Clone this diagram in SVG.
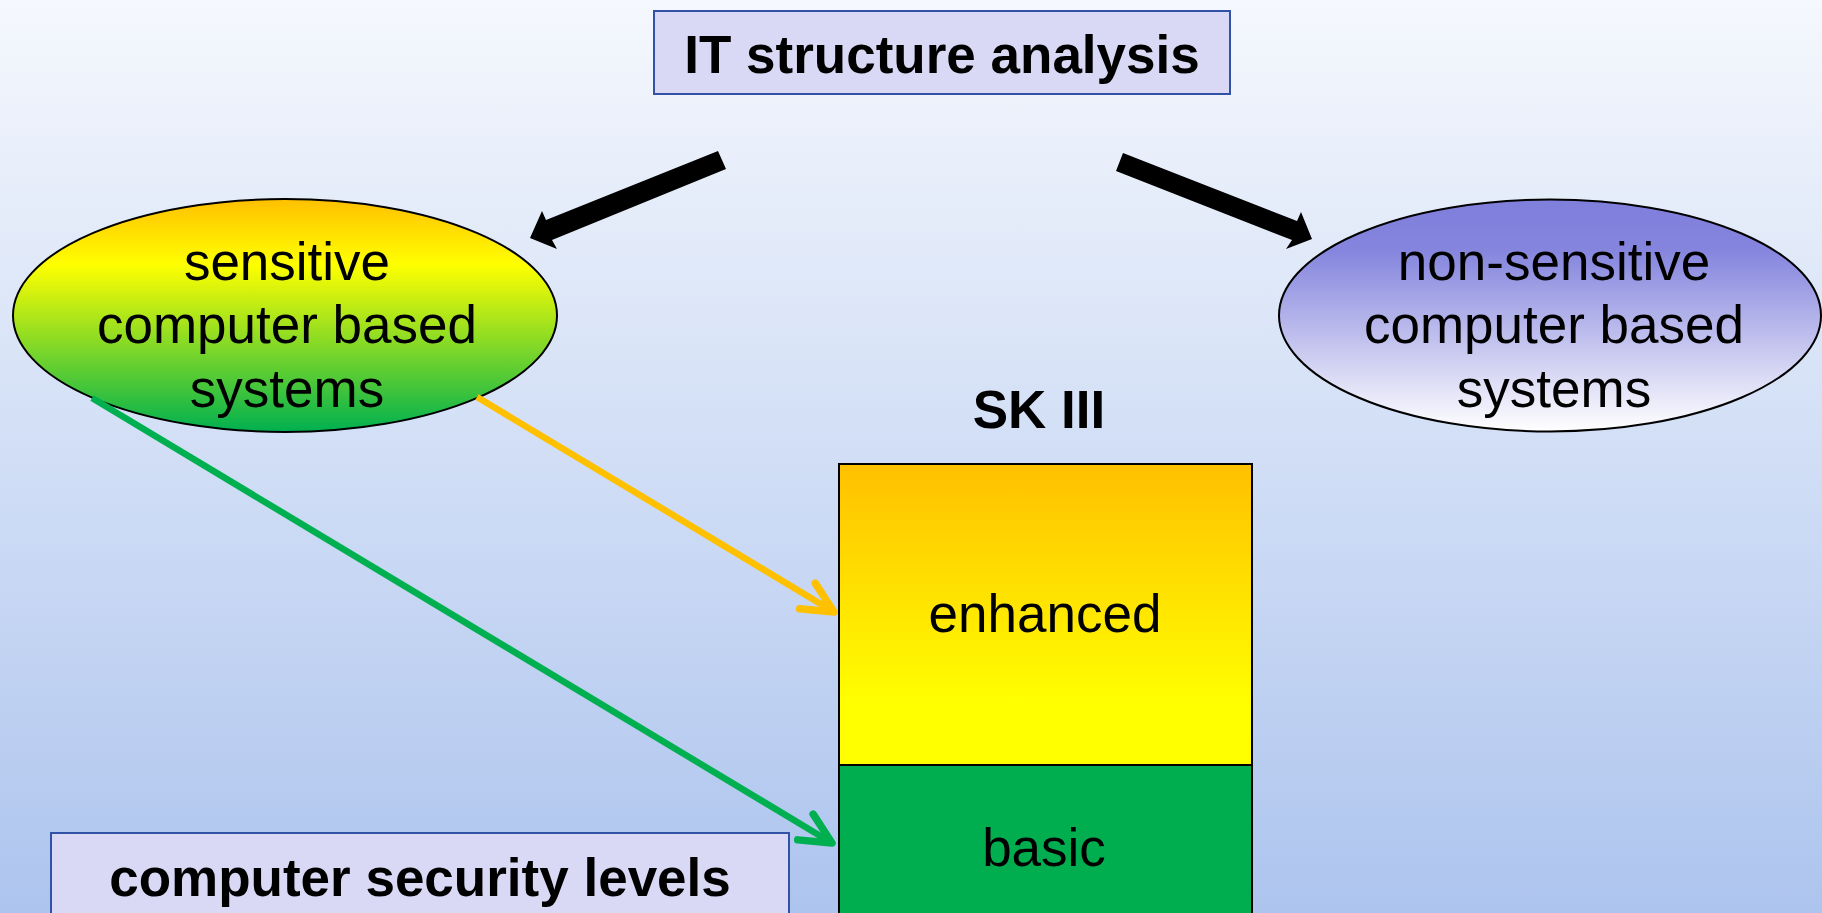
<svg xmlns="http://www.w3.org/2000/svg" width="1822" height="913" viewBox="0 0 1822 913">
  <defs>
    <linearGradient id="bg" x1="0" y1="0" x2="0" y2="1">
      <stop offset="0" stop-color="#F5F8FD"/>
      <stop offset="1" stop-color="#ADC4EE"/>
    </linearGradient>
    <linearGradient id="gSens" x1="0" y1="0" x2="0" y2="1">
      <stop offset="0" stop-color="#FFC000"/>
      <stop offset="0.28" stop-color="#FFFF00"/>
      <stop offset="1" stop-color="#00B050"/>
    </linearGradient>
    <linearGradient id="gNon" x1="0" y1="0" x2="0" y2="1">
      <stop offset="0" stop-color="#7F7FDC"/>
      <stop offset="0.22" stop-color="#8585DE"/>
      <stop offset="1" stop-color="#FFFFFF"/>
    </linearGradient>
    <linearGradient id="gEnh" x1="0" y1="0" x2="0" y2="1">
      <stop offset="0" stop-color="#FFC000"/>
      <stop offset="0.8" stop-color="#FFFF00"/>
      <stop offset="1" stop-color="#FFFF00"/>
    </linearGradient>
    <marker id="chevO" markerUnits="userSpaceOnUse" viewBox="-40 -22 46 44" markerWidth="46" markerHeight="44" refX="0" refY="0" orient="auto" overflow="visible">
      <path d="M-31,-15 L0,0 L-31,15" fill="none" stroke="#FFC000" stroke-width="7.5" stroke-linecap="round" stroke-linejoin="round"/>
    </marker>
    <marker id="chevG" markerUnits="userSpaceOnUse" viewBox="-40 -22 46 44" markerWidth="46" markerHeight="44" refX="0" refY="0" orient="auto" overflow="visible">
      <path d="M-31,-15 L0,0 L-31,15" fill="none" stroke="#00B050" stroke-width="7.5" stroke-linecap="round" stroke-linejoin="round"/>
    </marker>
  </defs>
  <style>
    .lbl { font-family: "Liberation Sans", Arial, sans-serif; font-size: 53px; fill: #000; text-anchor: middle; }
    .bold { font-weight: bold; }
    .hdr { fill: #D9D9F5; stroke: #3152A6; stroke-width: 2; }
    .ell { stroke: #000; stroke-width: 2; }
    .conn { fill: none; stroke-width: 6.5; }
  </style>

  <rect x="0" y="0" width="1822" height="913" fill="url(#bg)"/>

  <g id="it-structure-analysis">
    <rect class="hdr" x="654" y="11" width="576" height="83"/>
    <text class="lbl bold" x="942" y="73">IT structure analysis</text>
  </g>

  <g id="sensitive">
    <ellipse class="ell" cx="285" cy="315.5" rx="272" ry="116.5" fill="url(#gSens)"/>
    <text class="lbl" x="287" y="280">sensitive</text>
    <text class="lbl" x="287" y="343">computer based</text>
    <text class="lbl" x="287" y="407">systems</text>
  </g>

  <g id="non-sensitive">
    <ellipse class="ell" cx="1550" cy="315.5" rx="271" ry="116" fill="url(#gNon)"/>
    <text class="lbl" x="1554" y="280">non-sensitive</text>
    <text class="lbl" x="1554" y="343">computer based</text>
    <text class="lbl" x="1554" y="407">systems</text>
  </g>

  <g id="sk3">
    <text class="lbl bold" x="1039" y="428">SK III</text>
    <g id="enhanced">
      <rect x="839" y="464" width="413" height="301" fill="url(#gEnh)" stroke="#000" stroke-width="2"/>
      <text class="lbl" x="1045" y="632">enhanced</text>
    </g>
    <g id="basic">
      <rect x="839" y="765" width="413" height="160" fill="#00AD4F" stroke="#000" stroke-width="2"/>
      <text class="lbl" x="1044" y="866">basic</text>
    </g>
  </g>

  <g id="computer-security-levels">
    <rect class="hdr" x="51" y="833" width="738" height="100"/>
    <text class="lbl bold" x="420" y="896">computer security levels</text>
  </g>

  <g id="connectors">
    <polygon points="718,151 726,169 552,240 557,249 530,238 542,211 546,220" fill="#000"/>
    <polygon points="1123,153 1297,221 1301,212 1312,239 1286,249 1292,240 1116,171" fill="#000"/>
    <line class="conn" x1="477" y1="397" x2="834" y2="612" stroke="#FFC000" marker-end="url(#chevO)"/>
    <line class="conn" x1="92" y1="398" x2="832" y2="843" stroke="#00B050" marker-end="url(#chevG)"/>
  </g>
</svg>
